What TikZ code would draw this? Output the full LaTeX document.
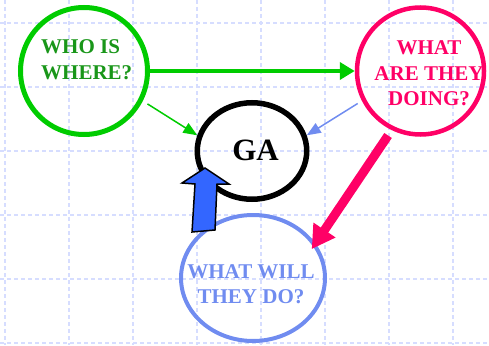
\documentclass[tikz,border=0pt]{standalone}
\usepackage{fontspec}
\setmainfont{Liberation Serif}
\usetikzlibrary{arrows.meta,shapes.geometric}
\definecolor{gridc}{RGB}{214,221,255}
\definecolor{grn}{RGB}{0,204,0}
\definecolor{dgrn}{RGB}{25,150,25}
\definecolor{pnk}{RGB}{255,0,102}
\definecolor{lblue}{RGB}{112,140,240}
\definecolor{bblue}{RGB}{51,102,255}
\begin{document}
\begin{tikzpicture}[x=1pt,y=-1pt,
  gridline/.style={gridc, line width=1.1pt, dash pattern=on 4pt off 3pt},
  ring/.style={draw, circle, inner sep=0pt},
  oval/.style={draw, ellipse, inner sep=0pt},
  lbl/.style={font=\bfseries\fontsize{21}{25}\selectfont, inner sep=0pt},
  thinarrow/.style={line width=1.5pt, -{Triangle[length=14pt,width=11pt]}},
]
\useasboundingbox (0,0) rectangle (489,345);

% background grid
\foreach \x in {5,69,...,453} \draw[gridline] (\x,0) -- (\x,345);
\foreach \y in {23,87,...,343} \draw[gridline] (0,\y) -- (489,\y);

% circles
\node[ring, draw=grn, line width=5pt, minimum size=127pt] (who) at (84,71) {};
\node[ring, draw=pnk, line width=4.5pt, minimum size=127pt] (doing) at (420.5,71) {};
\node[oval, line width=5.5pt, minimum width=109.5pt, minimum height=96.5pt] (ga) at (252,151) {};
\node[oval, draw=lblue, line width=4pt, minimum width=144pt, minimum height=126pt] (will) at (253,278) {};

% labels
\node[lbl, text=dgrn, anchor=base west] (who1) at (41,53) {WHO IS};
\node[lbl, text=dgrn, anchor=base west] (who2) at (41,79) {WHERE?};
\node[lbl, text=pnk, anchor=base] (doing1) at (429,55) {WHAT};
\node[lbl, text=pnk, anchor=base] (doing2) at (429,80) {ARE THEY};
\node[lbl, text=pnk, anchor=base] (doing3) at (429,105) {DOING?};
\node[lbl, text=lblue, anchor=base] (will1) at (251,278) {WHAT WILL};
\node[lbl, text=lblue, anchor=base] (will2) at (251,303) {THEY DO?};
\node[inner sep=0pt, font=\bfseries\fontsize{31}{36}\selectfont, anchor=base] (galbl) at (255.5,160) {GA};

% connectors
\draw[grn, line width=4.5pt, -{Triangle[length=15pt,width=17pt]}] (who.east) -- (doing.west);
\draw[grn, thinarrow, shorten <=5.5pt] (who.-27) -- (ga.164);
\draw[lblue, thinarrow, shorten <=5pt] (doing.207) -- (ga.16);
\draw[pnk, line width=9pt, -{Triangle[length=23pt,width=25pt]}, shorten <=6.5pt, shorten >=-7pt] (doing.244) -- (will.29);

% block arrow from the lower circle up into GA
\filldraw[fill=bblue, draw=black, line width=1.5pt, line join=miter]
  (205,168) -- (229,184) -- (217,184) -- (215,230) -- (192,232) -- (195,184) -- (182,183) -- cycle;
\end{tikzpicture}
\end{document}
